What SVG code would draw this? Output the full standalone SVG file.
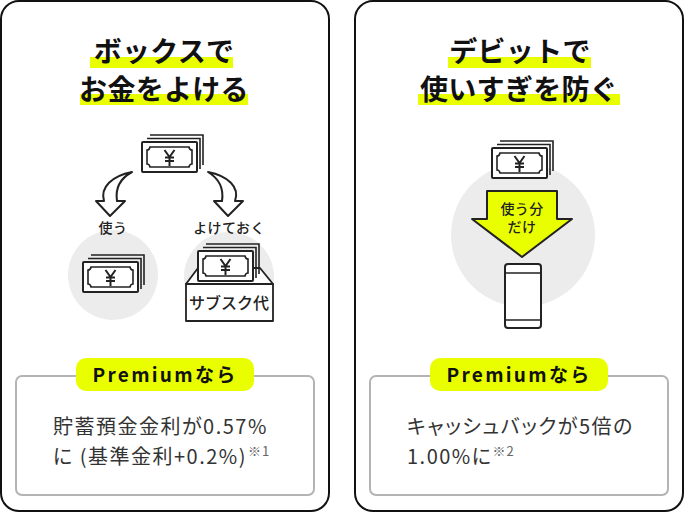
<svg xmlns="http://www.w3.org/2000/svg" xmlns:xlink="http://www.w3.org/1999/xlink" width="684" height="512" viewBox="0 0 684 512">
<style>
text{font-family:"Noto Sans CJK JP","Noto Sans",sans-serif;fill:#1a1a1a}
.panel{fill:#fff;stroke:#111;stroke-width:2}
.inner{fill:#fff;stroke:#b4b4b4;stroke-width:2}
.y{fill:#e9ff00}
.t{font-size:28px;font-weight:700;text-anchor:middle;fill:#111;letter-spacing:.3px}
.p{font-size:19px;font-weight:700;text-anchor:middle;letter-spacing:2.300px;fill:#111}
.b{font-size:20px;fill:#333;letter-spacing:1.500px;font-feature-settings:"palt"}
.s{font-size:13px;fill:#666;letter-spacing:1px}
.l{font-size:14px;font-weight:500;text-anchor:middle;fill:#222;letter-spacing:.4px}
.g{fill:#ececec}
.ln{fill:#fff;stroke:#222;stroke-width:2;stroke-linejoin:round}
.nf{fill:none;stroke:#222;stroke-width:1.600}
</style>
<defs>
<g id="bill">
<path class="nf" d="M8-7H61V23M5-3.500H58V27"/>
<rect class="ln" x="0" y="0" width="55" height="30" rx="1"/>
<path class="nf" d="M8 5H47Q47.500 8 50 8V22Q47.500 22 47 25H8Q7.500 22 5 22V8Q7.500 8 8 5Z"/>
<path class="nf" d="M22.500 8L27.500 15L32.500 8M27.500 15V24M23 15.500H32M23 19H32" style="stroke-width:2"/>
</g>
</defs>
<g id="panel-left">
<rect class="panel" x="1" y="1" width="328" height="510" rx="18"/>
<rect class="y" x="90" y="57" width="143" height="11"/>
<rect class="y" x="80" y="94" width="168" height="11"/>
<text class="t" x="164" y="62">ボックスで</text>
<text class="t" x="164" y="100">お金をよける</text>
</g>
<g id="node-source"><use xlink:href="#bill" href="#bill" x="142" y="142"/></g>
<g id="node-use">
<circle class="g" cx="113" cy="275" r="45"/>
<use xlink:href="#bill" href="#bill" x="83" y="262"/>
<text class="l" x="113" y="233">使う</text>
</g>
<g id="node-set-aside">
<circle class="g" cx="229" cy="277" r="45"/>
<path class="ln" d="M186 284L198 268H260L273 284Z" style="stroke-width:1.800"/>
<use xlink:href="#bill" href="#bill" x="198" y="251"/>
<rect class="ln" x="186" y="284" width="87" height="37" style="stroke-width:1.800"/>
<text class="l" x="229" y="233">よけておく</text>
<text x="229" y="309" text-anchor="middle" style="font-size:16px;font-weight:500;fill:#222">サブスク代</text>
</g>
<g id="connectors">
<path class="ln" d="M132 172C112 176 100 187 104 201H96L110 216L125 201H117C115 188 121 178 132 172Z"/>
<path class="ln" d="M208 172C228 176 240 187 235 201H243L228 216L214 201H222C224 188 218 178 208 172Z"/>
</g>
<g id="box-left">
<rect class="inner" x="16" y="376" width="298" height="119" rx="6"/>
<rect class="y" x="76" y="358" width="178" height="33" rx="10"/>
<text class="p" x="165" y="382">Premiumなら</text>
<text class="b" x="53" y="434">貯蓄預金金利が0.57%</text>
<text class="b" x="53" y="464">に (基準金利+0.2%)<tspan class="s" dx="1" dy="-8">※1</tspan></text>
</g>
<g id="panel-right">
<rect class="panel" x="355" y="1" width="328" height="510" rx="18"/>
<rect class="y" x="448" y="57" width="143" height="11"/>
<rect class="y" x="418" y="94" width="202" height="11"/>
<text class="t" x="520" y="62">デビットで</text>
<text class="t" x="519" y="100">使いすぎを防ぐ</text>
</g>
<g id="node-limit">
<circle class="g" cx="523" cy="235" r="72"/>
<use xlink:href="#bill" href="#bill" x="492" y="148"/>
<path class="ln" d="M487 191H557V219H572L522 257L472 219H487Z" style="fill:#e9ff00"/>
<text class="l" x="522" y="214">使う分</text>
<text class="l" x="522" y="232">だけ</text>
</g>
<g id="node-phone">
<rect class="ln" x="505" y="264" width="36" height="64" rx="3"/>
<path class="nf" d="M505 273H541M505 320H541"/>
</g>
<g id="box-right">
<rect class="inner" x="370" y="376" width="298" height="119" rx="6"/>
<rect class="y" x="430" y="358" width="178" height="33" rx="10"/>
<text class="p" x="519" y="382">Premiumなら</text>
<text class="b" x="407" y="434">キャッシュバックが5倍の</text>
<text class="b" x="407" y="464">1.00%に<tspan class="s" dx="0" dy="-8">※2</tspan></text>
</g>
</svg>
